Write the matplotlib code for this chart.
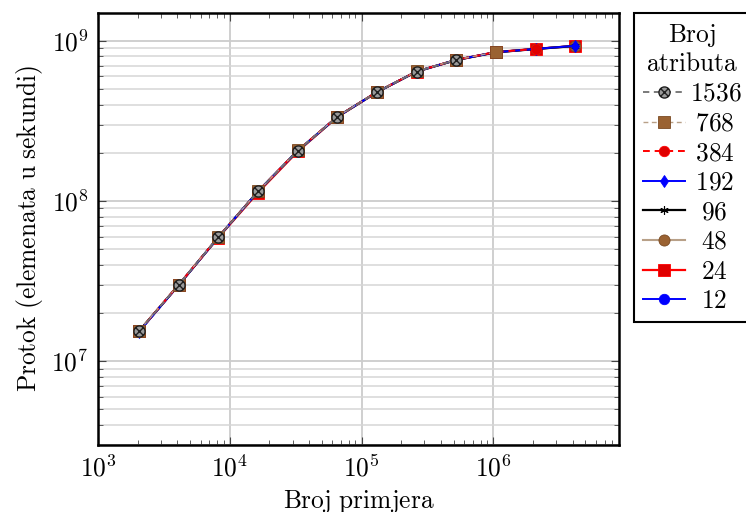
import numpy as np
import matplotlib
matplotlib.use("Agg")
import matplotlib.pyplot as plt
from matplotlib.path import Path
from matplotlib.ticker import LogLocator, FuncFormatter, NullFormatter

plt.rcParams['mathtext.fontset'] = 'cm'

# ---- data ----
n_examples = [2**k for k in range(11, 23)]
series_labels = ["1536", "768", "384", "192", "96", "48", "24", "12"]
y_1536 = [1.54e7, 3.00e7, 5.95e7, 1.15e8, 2.06e8, 3.36e8, 4.79e8, 6.44e8, 7.61e8]
y_768 = [1.55e7, 3.01e7, 5.97e7, 1.15e8, 2.07e8, 3.37e8, 4.81e8, 6.46e8, 7.63e8, 8.52e8]
y_384 = [1.54e7, 3.00e7, 5.96e7, 1.15e8, 2.07e8, 3.37e8, 4.80e8, 6.45e8, 7.62e8, 8.51e8, 8.91e8]
y_192 = [1.53e7, 2.99e7, 5.94e7, 1.15e8, 2.06e8, 3.36e8, 4.79e8, 6.44e8, 7.61e8, 8.50e8, 8.91e8, 9.32e8]
y_96 = [1.54e7, 2.99e7, 5.95e7, 1.15e8, 2.06e8, 3.36e8, 4.79e8, 6.44e8, 7.60e8, 8.49e8, 8.90e8, 9.30e8]
y_48 = [1.54e7, 2.99e7, 5.94e7, 1.15e8, 2.05e8, 3.35e8, 4.78e8, 6.43e8, 7.60e8, 8.49e8, 8.90e8, 9.30e8]
y_24 = [1.54e7, 3.00e7, 5.92e7, 1.13e8, 2.04e8, 3.35e8, 4.79e8, 6.44e8, 7.61e8, 8.52e8, 8.92e8, 9.31e8]
y_12 = [1.53e7, 2.99e7, 5.94e7, 1.15e8, 2.06e8, 3.36e8, 4.79e8, 6.45e8, 7.62e8, 8.51e8, 8.92e8, 9.33e8]
series_values = [y_1536, y_768, y_384, y_192, y_96, y_48, y_24, y_12]

# ---- marker shapes / styles ----
d = 0.7071
otimes = Path.make_compound_path(
    Path.unit_circle(),
    Path([[-d, -d], [d, d], [-d, d], [d, -d]],
         [Path.MOVETO, Path.LINETO, Path.MOVETO, Path.LINETO]))

brown = '#9a6232'
tan = '#b8a088'
styles = {
    "1536": dict(color='#707070', ls=(0, (3.5, 2.5)), lw=1.3, marker=otimes, ms=8,
                 mfc='#9a9a9a', mec='#202020', mew=1.0),
    "768": dict(color=tan, ls=(0, (3.5, 2.5)), lw=1.0, marker='s', ms=8,
                mfc=brown, mec='#7a4a22', mew=0.6),
    "384": dict(color='#ff0000', ls=(0, (3.5, 2.5)), lw=1.4, marker='o', ms=7.5,
                mfc='#e00000', mec='#ff0000', mew=0.6),
    "192": dict(color='#0000ff', ls='-', lw=1.4, marker='d', ms=6.5,
                mfc='#0000ff', mec='#0000ff', mew=0.6),
    "96": dict(color='black', ls='-', lw=1.6, marker=(6, 2, 0), ms=6,
               mfc='black', mec='black', mew=0.8),
    "48": dict(color=tan, ls='-', lw=1.5, marker='o', ms=8,
               mfc=brown, mec='#7a4a22', mew=0.6),
    "24": dict(color='#ff0000', ls='-', lw=1.6, marker='s', ms=8.5,
               mfc='#e00000', mec='#ff0000', mew=0.6),
    "12": dict(color='#0000ff', ls='-', lw=1.4, marker='o', ms=7.5,
               mfc='#0000ff', mec='#0000ff', mew=0.6),
}

fig = plt.figure(figsize=(7.46, 5.12), dpi=100)
ax = fig.add_axes([98/746, 1 - 445/512, (619-98)/746, (445-12.7)/512])

handles = {}
for lab, yv in reversed(list(zip(series_labels, series_values))):
    xv = n_examples[:len(yv)]
    h, = ax.plot(xv, yv, label=lab, zorder=3, **styles[lab])
    handles[lab] = h

ax.set_xscale('log')
ax.set_yscale('log')
ax.set_xlim(1e3, 9e6)
ax.set_ylim(3e6, 1.5e9)

FS = 18.3
fmt = FuncFormatter(lambda v, p: r'$10^{%d}$' % int(round(np.log10(v))))
for axis in (ax.xaxis, ax.yaxis):
    axis.set_major_locator(LogLocator(base=10))
    axis.set_minor_locator(LogLocator(base=10, subs=np.arange(2, 10)))
    axis.set_major_formatter(fmt)
    axis.set_minor_formatter(NullFormatter())

ax.grid(True, which='major', axis='both', color='#cccccc', lw=1.3, zorder=0)
ax.grid(True, which='minor', axis='y', color='#d6d6d6', lw=1.1, zorder=0)
ax.set_axisbelow(True)

ax.tick_params(which='both', direction='in', top=True, right=True, labelsize=FS,
               color='#444444')
ax.tick_params(which='major', length=6, width=0.8, pad=7)
ax.tick_params(which='minor', length=3.5, width=0.6)
for s in ax.spines.values():
    s.set_linewidth(1.8)
    s.set_color('black')

ax.set_xlabel(r'$\mathrm{Broj\ primjera}$', fontsize=FS, labelpad=5)
ax.set_ylabel(r'$\mathrm{Protok\ (elemenata\ u\ sekundi)}$', fontsize=FS, labelpad=4)

def pad_label(s):
    extra = (4 - len(s)) * 0.25
    return (r'$\hspace{%.2f}%s$' % (extra, s)) if extra > 0 else r'$%s$' % s

leg_handles = [handles[l] for l in series_labels]
leg_labels = [pad_label(l) for l in series_labels]
leg = fig.legend(leg_handles, leg_labels,
                 loc='upper left', bbox_to_anchor=(634/746, 1 - 12.7/512),
                 bbox_transform=fig.transFigure, borderaxespad=0,
                 title=r'$\mathrm{Broj}$' + '\n' + r'$\mathrm{atributa}$',
                 fontsize=FS, title_fontsize=FS, fancybox=False,
                 framealpha=1, edgecolor='black', handlelength=1.65,
                 handletextpad=0.2, labelspacing=0.22, borderpad=0.35)
leg.get_frame().set_linewidth(1.5)
leg.get_title().set_multialignment('center')

fig.savefig('out.png', dpi=100)
